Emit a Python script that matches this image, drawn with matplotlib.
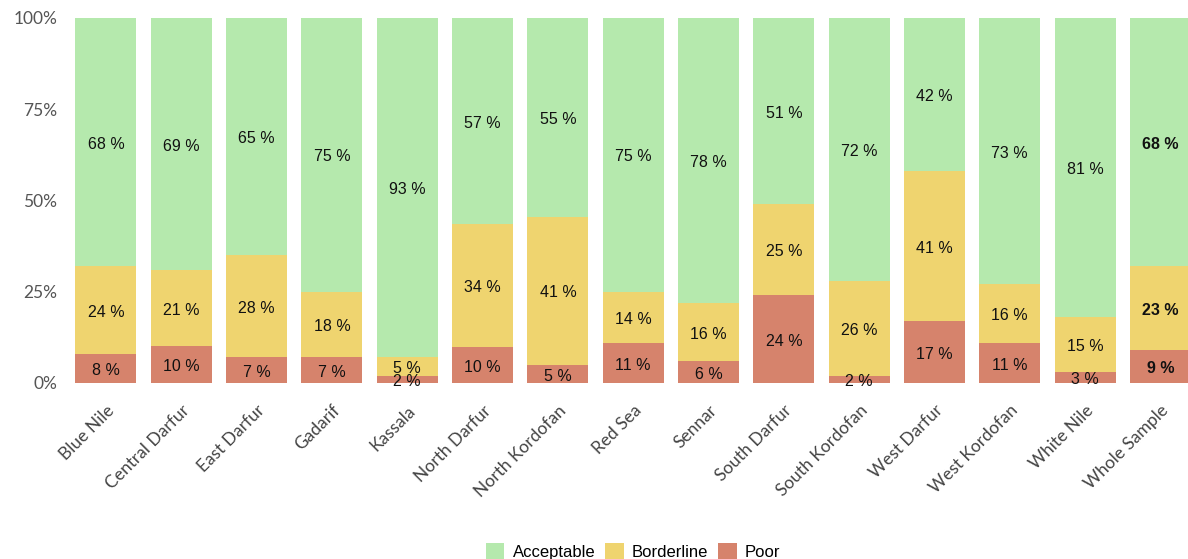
import matplotlib
matplotlib.use('Agg')
import matplotlib.pyplot as plt
import numpy as np

regions = ['Blue Nile', 'Central Darfur', 'East Darfur', 'Gadarif', 'Kassala',
           'North Darfur', 'North Kordofan', 'Red Sea', 'Sennar', 'South Darfur',
           'South Kordofan', 'West Darfur', 'West Kordofan', 'White Nile', 'Whole Sample']
poor = [8, 10, 7, 7, 2, 10, 5, 11, 6, 24, 2, 17, 11, 3, 9]
borderline = [24, 21, 28, 18, 5, 34, 41, 14, 16, 25, 26, 41, 16, 15, 23]
acceptable = [68, 69, 65, 75, 93, 57, 55, 75, 78, 51, 72, 42, 73, 81, 68]

series = [('Poor', poor, '#d6836c'),
          ('Borderline', borderline, '#efd46f'),
          ('Acceptable', acceptable, '#b5e9ad')]

tot = np.array(poor) + np.array(borderline) + np.array(acceptable)

fig = plt.figure(figsize=(11.88, 5.59), dpi=100)
ax = fig.add_axes([0.0575, 0.315, 0.951, 0.653])

x = np.arange(len(regions))
bottom = np.zeros(len(regions))
handles = {}
for name, vals, col in series:
    h = np.array(vals) / tot * 100
    b = ax.bar(x, h, 0.81, bottom=bottom, color=col, label=name)
    handles[name] = b
    for i in range(len(regions)):
        bold = regions[i] == 'Whole Sample'
        # label sits a touch below the segment centre, as in the source
        ax.text(x[i], bottom[i] + h[i] / 2 - 0.6, '{} %'.format(vals[i]),
                ha='center', va='center', fontsize=11.5,
                family='Liberation Sans', color='#111111',
                fontweight='bold' if bold else 'normal')
    bottom += h

ax.set_xlim(-0.5, len(regions) - 0.5)
ax.set_ylim(0, 100)
ax.set_yticks([0, 25, 50, 75, 100])
ax.set_yticklabels(['0%', '25%', '50%', '75%', '100%'], family='Lato',
                   fontsize=12.5, color='#555555')
ax.set_xticks(x)
ax.set_xticklabels(regions, rotation=45, ha='right', rotation_mode='anchor',
                   family='Lato', fontsize=12.5, color='#444444')
ax.tick_params(length=0, pad=8)
ax.tick_params(axis='x', pad=14)
for s in ax.spines.values():
    s.set_visible(False)

leg = ax.legend([handles['Acceptable'], handles['Borderline'], handles['Poor']],
                ['Acceptable', 'Borderline', 'Poor'],
                loc='center', bbox_to_anchor=(0.5, -0.462), ncol=3,
                frameon=False, prop={'family': 'Liberation Sans', 'size': 12},
                handlelength=1.1, handleheight=1.1, handletextpad=0.5,
                columnspacing=0.6)

fig.savefig('out.png', dpi=100)
